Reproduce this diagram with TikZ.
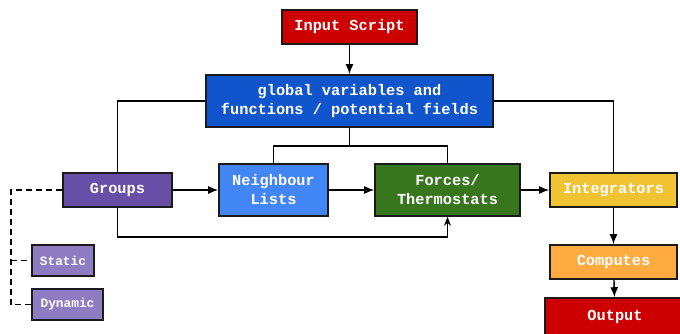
\documentclass[tikz,border=0pt]{standalone}
\usepackage{fontspec}
\setmonofont{Liberation Mono}
\usetikzlibrary{arrows.meta}
\definecolor{cred}{HTML}{CC0000}
\definecolor{cglob}{HTML}{1155CC}
\definecolor{cgrp}{HTML}{674EA7}
\definecolor{cnb}{HTML}{4285F4}
\definecolor{cforce}{HTML}{38761D}
\definecolor{cint}{HTML}{F1C232}
\definecolor{ccomp}{HTML}{FFAB40}
\definecolor{clight}{HTML}{8E7CC3}
\definecolor{cedge}{HTML}{1A1A1A}
\tikzset{
  box/.style={draw=cedge, line width=1.6pt, text=white, inner sep=0pt, align=center,
    font=\ttfamily\bfseries\fontsize{15.3}{19}\selectfont},
  smallbox/.style={box, font=\ttfamily\bfseries\fontsize{12.8}{15}\selectfont},
  conn/.style={draw=black, line width=1.4pt},
  arr/.style={conn, -{Latex[length=10pt,width=8pt]}},
  arrs/.style={conn, -{Stealth[length=9pt,width=7pt]}},
  dconn/.style={conn, dash pattern=on 6pt off 4pt},
}
\begin{document}
\begin{tikzpicture}[x=1pt,y=-1pt]
\useasboundingbox (0,0) rectangle (680,333);
\clip (0,0) rectangle (680,333);
\node[box, fill=cred, minimum width=135pt, minimum height=34pt] (input) at (349.5,27) {Input Script};
\node[box, fill=cglob, minimum width=287pt, minimum height=52pt] (global) at (349.5,101) {global variables and\\functions / potential fields};
\node[box, fill=cgrp, minimum width=109pt, minimum height=34pt] (groups) at (117.5,190) {Groups};
\node[box, fill=cnb, minimum width=109pt, minimum height=52pt] (neigh) at (273.5,190) {Neighbour\\Lists};
\node[box, fill=cforce, minimum width=145pt, minimum height=52pt] (forces) at (447.5,190) {Forces/\\Thermostats};
\node[box, fill=cint, minimum width=127pt, minimum height=34pt] (integ) at (613.5,190) {Integrators};
\node[box, fill=ccomp, minimum width=127pt, minimum height=34pt] (comp) at (613.5,262) {Computes};
\node[box, fill=cred, minimum width=140pt, minimum height=38pt] (output) at (615,317) {Output};
\node[smallbox, fill=clight, minimum width=62pt, minimum height=31pt] (static) at (63,260.5) {Static};
\node[smallbox, fill=clight, minimum width=71pt, minimum height=31pt] (dynamic) at (67.5,304.5) {Dynamic};

\coordinate (split) at (349.5,146);
\coordinate (gb) at (117.5,237);
\coordinate (dl) at (11,190);
\coordinate (ds) at (11,260.5);

\draw[arr] (input) -- (global);
\draw[conn] (global.west) -| (groups.north);
\draw[conn] (global.east) -| (integ.north);
\draw[conn] (global.south) -- (split);
\draw[conn] (neigh.north) |- (split) -| (forces.north);
\draw[arr] (groups) -- (neigh);
\draw[arr] (neigh) -- (forces);
\draw[arr] (forces) -- (integ);
\draw[arrs] (groups.south) -- (gb) -| (forces.south);
\draw[arr] (integ) -- (comp);
\draw[arr] (comp) -- (output);
\draw[dconn] (groups.west) -- (dl) |- (dynamic.west);
\draw[dconn] (ds) -- (static.west);
\end{tikzpicture}
\end{document}
